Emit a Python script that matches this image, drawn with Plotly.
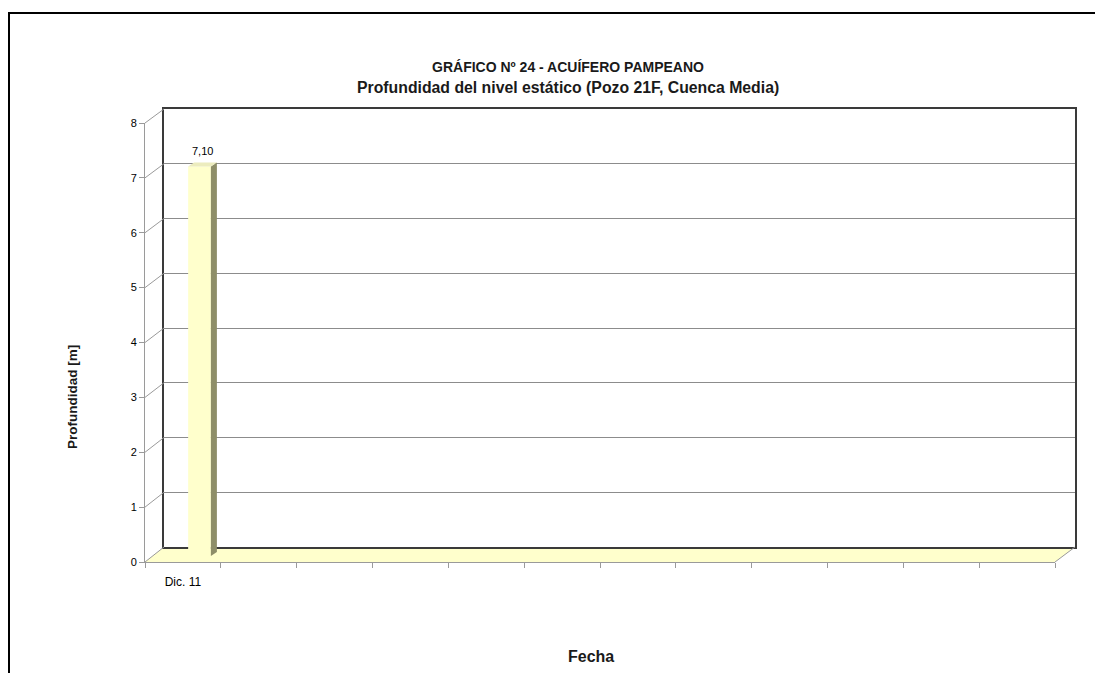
import plotly.graph_objects as go

# ---------------- data ----------------
fechas = ["Dic. 11", "", "", "", "", "", "", "", "", "", "", ""]
profundidad = [7.10, None, None, None, None, None, None, None, None, None, None, None]
y_ticks = [0, 1, 2, 3, 4, 5, 6, 7, 8]

titulo = "GRÁFICO Nº 24 - ACUÍFERO PAMPEANO"
subtitulo = "Profundidad del nivel estático (Pozo 21F, Cuenca Media)"
titulo_y = "Profundidad [m]"
titulo_x = "Fecha"

# ---------------- layout geometry (page pixels) ----------------
OFF = 8                      # default body margin of the html page
W, H = 1103 - 2 * OFF, 681 - 2 * OFF
FONT = "Liberation Sans, Arial, sans-serif"


def fx(x):
    return (x - OFF) / W


def fy(y):
    return 1 - (y - OFF) / H


FRONT = dict(x0=145, x1=1055, y0=562, y1=123)
BACK = dict(x0=164, x1=1075, y0=547, y1=109)
BARP = dict(x0=161.6, x1=1071.6, y0=556, y1=117)

YMAX = 8
N = len(fechas)
XR = [-0.5, N - 0.5]

BAR_W = 0.30
DX = 6 / ((BARP["x1"] - BARP["x0"]) / N)
DY = 4 / ((BARP["y0"] - BARP["y1"]) / YMAX)

C_FRONT = "#FFFFCC"
C_TOP = "#ECECBE"
C_SIDE = "#8E8E68"
C_GRID = "#8C8C8C"
C_EDGE = "#9A9A9A"

fig = go.Figure()

# empty traces so that the front and back subplots are drawn
fig.add_trace(go.Scatter(x=[], y=[], xaxis="x", yaxis="y", showlegend=False))
fig.add_trace(go.Scatter(x=[], y=[], xaxis="x2", yaxis="y2", showlegend=False))

# bar front faces
fig.add_trace(go.Bar(
    x=list(range(N)), y=profundidad, width=BAR_W,
    marker=dict(color=C_FRONT, line=dict(width=0)),
    xaxis="x3", yaxis="y3", showlegend=False, hoverinfo="y",
))

for i, v in enumerate(profundidad):
    if v is None:
        continue
    xr = i + BAR_W / 2
    xl = i - BAR_W / 2
    fig.add_trace(go.Scatter(
        x=[xr, xr + DX, xr + DX, xr, xr], y=[0, DY, v + DY, v, 0],
        mode="lines", fill="toself", fillcolor=C_SIDE, line=dict(width=0),
        xaxis="x3", yaxis="y3", showlegend=False, hoverinfo="skip"))
    fig.add_trace(go.Scatter(
        x=[xl, xr, xr + DX, xl + DX, xl], y=[v, v, v + DY, v + DY, v],
        mode="lines", fill="toself", fillcolor=C_TOP, line=dict(width=0),
        xaxis="x3", yaxis="y3", showlegend=False, hoverinfo="skip"))

shapes = []
floor_path = (f"M {fx(FRONT['x0'])} {fy(FRONT['y0'])} L {fx(FRONT['x1'])} {fy(FRONT['y0'])} "
              f"L {fx(BACK['x1'])} {fy(BACK['y0'])} L {fx(BACK['x0'])} {fy(BACK['y0'])} Z")
shapes.append(dict(type="path", path=floor_path, xref="paper", yref="paper",
                   fillcolor=C_FRONT, line=dict(width=0), layer="below"))
shapes.append(dict(type="line", xref="paper", yref="paper",
                   x0=fx(FRONT["x1"]), y0=fy(FRONT["y0"]), x1=fx(BACK["x1"]), y1=fy(BACK["y0"]),
                   line=dict(color=C_EDGE, width=1)))
for v in y_ticks:
    yf = FRONT["y0"] + (FRONT["y1"] - FRONT["y0"]) * v / YMAX
    yb = BACK["y0"] + (BACK["y1"] - BACK["y0"]) * v / YMAX
    shapes.append(dict(type="line", xref="paper", yref="paper",
                       x0=fx(FRONT["x0"]), y0=fy(yf), x1=fx(BACK["x0"]), y1=fy(yb),
                       line=dict(color=C_EDGE, width=1)))
# outer frame (left and top)
shapes.append(dict(type="path", xref="paper", yref="paper",
                   path=f"M {fx(9)} 0 L {fx(9)} {fy(13)} L 1 {fy(13)}",
                   line=dict(color="black", width=2)))

annotations = [
    dict(text=f"<b>{subtitulo}</b>", x=fx(568), y=fy(87), xref="paper", yref="paper",
         showarrow=False, xanchor="center", yanchor="middle",
         font=dict(family=FONT, size=15.8, color="#1a1a1a")),
    dict(text=f"<b>{titulo_y}</b>", x=fx(72), y=fy(397), xref="paper", yref="paper",
         showarrow=False, textangle=-90, xanchor="center", yanchor="middle",
         font=dict(family=FONT, size=13.5, color="#1a1a1a")),
    dict(text=f"<b>{titulo_x}</b>", x=fx(591), y=fy(656), xref="paper", yref="paper",
         showarrow=False, xanchor="center", yanchor="middle",
         font=dict(family=FONT, size=16, color="#1a1a1a")),
]
for i, v in enumerate(profundidad):
    if v is None:
        continue
    annotations.append(dict(
        text=f"{v:.2f}".replace(".", ","), x=i + DX / 2, y=v + DY, xref="x3", yref="y3",
        showarrow=False, xanchor="center", yanchor="bottom", yshift=3,
        font=dict(family=FONT, size=11, color="black")))

fig.update_layout(
    template="none",
    width=W, height=H, autosize=False,
    margin=dict(l=0, r=0, t=0, b=0, pad=0, autoexpand=False),
    paper_bgcolor="white", plot_bgcolor="rgba(0,0,0,0)",
    showlegend=False, separators=",.",
    font=dict(family=FONT, size=11, color="black"),
    title=dict(text=f"<b>{titulo}</b>", x=fx(568), y=fy(67), xref="container", yref="container",
               xanchor="center", yanchor="middle", automargin=False,
               font=dict(family=FONT, size=14, color="#1a1a1a")),
    xaxis=dict(visible=True, automargin=False,
               domain=[fx(FRONT["x0"]), fx(FRONT["x1"])], anchor="y", range=XR,
               tickmode="array", tickvals=list(range(N)), ticktext=fechas,
               ticks="", ticklabelstandoff=9, tickfont=dict(size=12, family=FONT),
               minor=dict(tickmode="array", tickvals=[i - 0.5 for i in range(N + 1)],
                          ticks="outside", ticklen=5, tickcolor=C_EDGE, tickwidth=1,
                          showgrid=False),
               showline=True, linecolor=C_EDGE, linewidth=1,
               showgrid=False, zeroline=False, fixedrange=True),
    yaxis=dict(visible=True, automargin=False,
               domain=[fy(FRONT["y0"]), fy(FRONT["y1"])], anchor="x",
               range=[0, YMAX],
               tickmode="array", tickvals=y_ticks, ticks="outside", ticklen=5,
               tickcolor=C_EDGE, tickfont=dict(size=11, family=FONT),
               showline=True, linecolor=C_EDGE, linewidth=1,
               showgrid=False, zeroline=False, fixedrange=True),
    xaxis2=dict(visible=True, automargin=False,
                domain=[fx(BACK["x0"]), fx(BACK["x1"])], anchor="y2", range=XR,
                showticklabels=False, ticks="", showgrid=False, zeroline=False,
                showline=True, mirror=True, linecolor="#3a3a3a", linewidth=1.5,
                fixedrange=True),
    yaxis2=dict(visible=True, automargin=False,
                domain=[fy(BACK["y0"]), fy(BACK["y1"])], anchor="x2",
                range=[0, YMAX],
                tickmode="array", tickvals=y_ticks, showticklabels=False, ticks="",
                showgrid=True, gridcolor=C_GRID, gridwidth=1, zeroline=False,
                showline=True, mirror=True, linecolor="#3a3a3a", linewidth=1.5,
                fixedrange=True),
    xaxis3=dict(domain=[fx(BARP["x0"]), fx(BARP["x1"])], anchor="y3", range=XR,
                visible=False, fixedrange=True, automargin=False),
    yaxis3=dict(domain=[fy(BARP["y0"]), fy(BARP["y1"])], anchor="x3", range=[0, YMAX],
                visible=False, fixedrange=True, automargin=False),
    shapes=shapes,
    annotations=annotations,
)

fig.write_html("out.html")
